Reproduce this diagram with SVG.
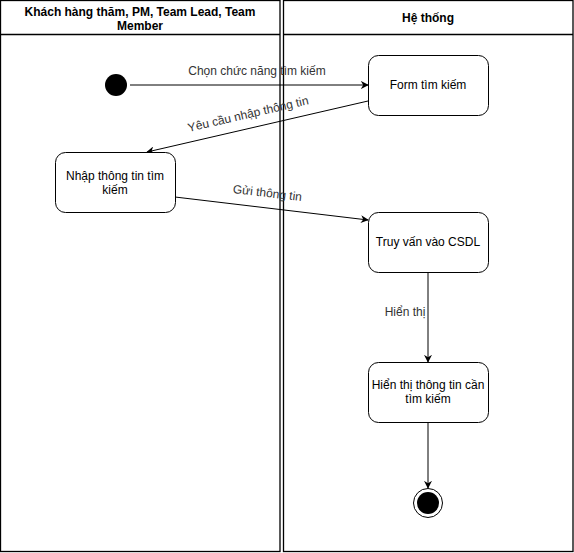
<svg xmlns="http://www.w3.org/2000/svg" width="574" height="553" viewBox="0 0 574 553">
<style>
text{font-family:"Liberation Sans",Arial,sans-serif;font-size:12px;fill:#000}
.hdr{font-weight:bold;text-anchor:middle}
.c{text-anchor:middle}
.lbl{text-anchor:middle;fill:#333}
.lane{fill:#fff;stroke:#000;stroke-width:1.3}
.node{fill:#fff;stroke:#000;stroke-width:1}
.edge{fill:none;stroke:#000;stroke-width:1}
</style>
<defs>
<marker id="arr" viewBox="0 0 10 10" refX="9" refY="5" markerWidth="8" markerHeight="8" markerUnits="userSpaceOnUse" orient="auto">
<path d="M0,0 L10,5 L0,10 L3,5 Z" fill="#000"/>
</marker>
</defs>
<rect width="574" height="553" fill="#fff"/>
<g id="lane-user">
<rect class="lane" x="0.5" y="0.5" width="279.5" height="551"/>
<line x1="0.5" y1="34.5" x2="280" y2="34.5" stroke="#000" stroke-width="1.3"/>
<text class="hdr" x="140" y="16">Khách hàng thăm, PM, Team Lead, Team</text>
<text class="hdr" x="140" y="30">Member</text>
</g>
<g id="lane-system">
<rect class="lane" x="283.5" y="0.5" width="289.5" height="551"/>
<line x1="283.5" y1="34.5" x2="573" y2="34.5" stroke="#000" stroke-width="1.3"/>
<text class="hdr" x="428" y="22">Hệ thống</text>
</g>
<g id="connectors">
<line class="edge" x1="130" y1="85" x2="368" y2="85" marker-end="url(#arr)"/>
<text class="lbl" x="257" y="75">Chọn chức năng tìm kiếm</text>
<line class="edge" x1="368" y1="101" x2="147" y2="152" marker-end="url(#arr)"/>
<text class="lbl" x="249" y="118" transform="rotate(-13 249 118)">Yêu cầu nhập thông tin</text>
<line class="edge" x1="175" y1="197" x2="368" y2="220" marker-end="url(#arr)"/>
<text class="lbl" x="267" y="197" transform="rotate(6.8 267 197)">Gửi thông tin</text>
<line class="edge" x1="428" y1="272" x2="428" y2="362" marker-end="url(#arr)"/>
<rect x="383" y="304" width="44" height="15" fill="#fff"/>
<text class="lbl" x="405" y="316">Hiển thị</text>
<line class="edge" x1="428" y1="422" x2="428" y2="488" marker-end="url(#arr)"/>
</g>
<g id="start">
<circle cx="116" cy="85" r="11" fill="#000"/>
</g>
<g id="form">
<rect class="node" x="368.5" y="55.5" width="120" height="60" rx="10"/>
<text class="c" x="428" y="89">Form tìm kiếm</text>
</g>
<g id="nhap">
<rect class="node" x="55.5" y="152.5" width="120" height="60" rx="10"/>
<text class="c" x="115" y="180">Nhập thông tin tìm</text>
<text class="c" x="115" y="194">kiếm</text>
</g>
<g id="truyvan">
<rect class="node" x="368.5" y="212.5" width="120" height="60" rx="10"/>
<text class="c" x="428" y="246">Truy vấn vào CSDL</text>
</g>
<g id="hienthi">
<rect class="node" x="368.5" y="362.5" width="120" height="60" rx="10"/>
<text class="c" x="428" y="389">Hiển thị thông tin cần</text>
<text class="c" x="428" y="403">tìm kiếm</text>
</g>
<g id="end">
<circle cx="428" cy="503" r="14.5" fill="#fff" stroke="#000" stroke-width="1"/>
<circle cx="428" cy="503" r="11" fill="#000"/>
</g>
</svg>
